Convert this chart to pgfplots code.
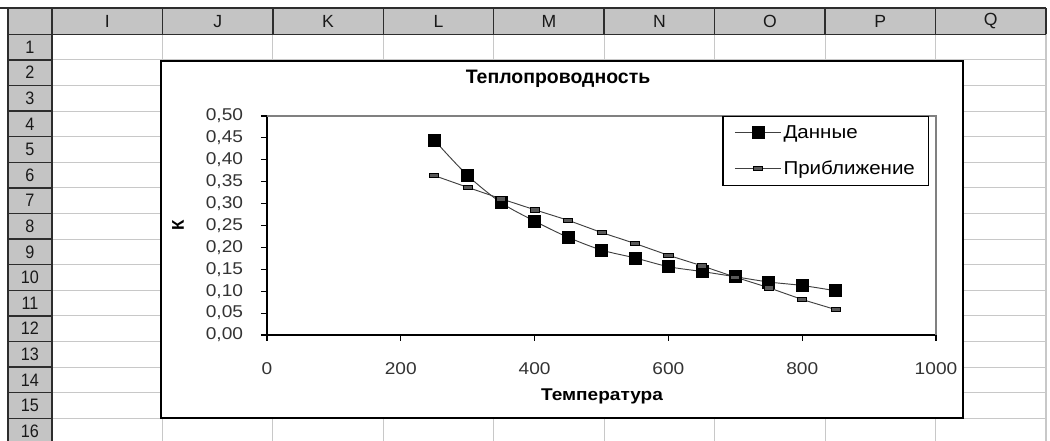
\documentclass[border=0pt]{standalone}
\usepackage{fontspec}
\setmainfont{Liberation Sans}
\usepackage{pgfplots}
\pgfplotsset{compat=1.18}
\definecolor{hdr}{RGB}{196,196,196}
\definecolor{gridc}{RGB}{200,200,200}
\definecolor{hdrline}{RGB}{45,45,45}
\definecolor{pborder}{RGB}{128,128,128}

\begin{document}
\begin{tikzpicture}
\useasboundingbox (0,0) rectangle (787.5pt,-330.75pt);
\begin{scope}[x=0.75pt,y=-0.75pt]
  % header fills
  \fill[hdr] (8,8) rectangle (1046,34.3);
  \fill[hdr] (8,34.3) rectangle (52,441);
  % cell grid
  \foreach \k in {1,...,15} {\pgfmathsetmacro\yy{34.3+25.6*\k}
    \draw[gridc, line width=0.8pt] (52,\yy) -- (1046,\yy);}
  \foreach \k in {1,...,9} {\pgfmathsetmacro\xx{52+110.44*\k}
    \draw[gridc, line width=0.8pt] (\xx,34.3) -- (\xx,441);}
  % header separators
  \foreach \k in {0,...,9} {\pgfmathsetmacro\xx{52+110.44*\k}
    \draw[hdrline, line width=1.1pt] (\xx,8) -- (\xx,34.3);}
  \foreach \k in {1,...,15} {\pgfmathsetmacro\yy{34.3+25.6*\k}
    \draw[hdrline, line width=1.1pt] (8,\yy) -- (52,\yy);}
  \draw[hdrline, line width=1.3pt] (0,8) -- (1046,8);
  \draw[hdrline, line width=1.1pt] (8,8) -- (8,441);
  \draw[hdrline, line width=1.1pt] (52,34.3) -- (52,441);
  \draw[hdrline, line width=1.1pt] (8,34.3) -- (1046,34.3);
  % column letters
  \foreach \c [count=\k from 0] in {I,J,K,L,M,N,O,P,Q} {\pgfmathsetmacro\xx{52+110.44*(\k+0.5)}
    \node[font=\fontsize{13.2}{15}\selectfont, text=black!90, inner sep=0pt] at (\xx,21.5) {\c};}
  % row numbers
  \foreach \r in {1,...,16} {\pgfmathsetmacro\yy{34.3+25.6*(\r-0.5)}
    \node[font=\fontsize{13.5}{15}\selectfont, text=black!90, inner sep=0pt, xscale=0.9] at (30,\yy) {\r};}
  % chart area
  \filldraw[fill=white, draw=black, line width=1pt] (161,61) rectangle (963,418);
  \node[font=\bfseries\fontsize{14.6}{17}\selectfont, inner sep=0pt] at (558,78.5) {Теплопроводность};
  \node[font=\bfseries\fontsize{12.75}{15}\selectfont, inner sep=0pt, rotate=90] at (178,225.5) {К};
  \node[font=\bfseries\fontsize{12.75}{15}\selectfont, inner sep=0pt, xscale=1.12] at (602,396) {Температура};
\end{scope}
\begin{axis}[
  at={(200.25pt,-251.25pt)}, anchor=south west,
  scale only axis, width=501.75pt, height=164.25pt,
  xmin=0, xmax=1000, ymin=0, ymax=0.5,
  xtick={0,200,400,600,800,1000},
  ytick={0,0.05,0.1,0.15,0.2,0.25,0.3,0.35,0.4,0.45,0.5},
  axis x line*=bottom, axis y line*=left,
  axis line style={black, line width=0.8pt},
  tick align=outside, major tick length=4.5pt,
  tick style={black, line width=0.8pt},
  /pgf/number format/assume math mode=true,
  every tick label/.append style={font=\fontsize{12.8}{14}\selectfont, text=black!80, xscale=1.12},
  yticklabel={\pgfmathprintnumber[fixed,fixed zerofill,precision=2,use comma]{\tick}},
  xticklabel={\pgfmathprintnumber[fixed,precision=0,set thousands separator={}]{\tick}},
  xticklabel style={yshift=-13pt},
  yticklabel style={xshift=-8.5pt},
  clip=false,
  legend style={at={(1,1)}, anchor=north east, xshift=-5.25pt,
    draw=black, line width=0.9pt, fill=white,
    font=\fontsize{14}{16}\selectfont, inner xsep=8.5pt, inner ysep=5pt,
    row sep=12.5pt, nodes={xscale=1.1, inner sep=1.5pt}},
  legend cell align=left,
  legend image code/.code={%
    \draw[mark repeat=2,mark phase=2,#1] plot coordinates {(0pt,0pt) (17.25pt,0pt) (34.5pt,0pt)};},
]
\draw[pborder, line width=0.8pt] (rel axis cs:0,1) -- (rel axis cs:1,1) -- (rel axis cs:1,0);
\addplot[black!75, line width=0.7pt, smooth, mark=square*, mark size=4.5pt,
  mark options={solid, fill=black, draw=black, line width=0.5pt}] coordinates {
  (250,0.445) (300,0.364) (350,0.302) (400,0.260) (450,0.223) (500,0.194) (550,0.176)
  (600,0.156) (650,0.145) (700,0.133) (750,0.121) (800,0.113) (850,0.101)};
\addlegendentry{Данные}
\addplot[black!75, line width=0.7pt, mark=square*, mark size=1.7pt,
  mark options={solid, xscale=2, fill=black!65, draw=black, line width=0.6pt}] coordinates {
  (250,0.364) (300,0.337) (350,0.311) (400,0.286) (450,0.262) (500,0.234) (550,0.209)
  (600,0.182) (650,0.158) (700,0.132) (750,0.108) (800,0.081) (850,0.058)};
\addlegendentry{Приближение}
\end{axis}
\end{tikzpicture}
\end{document}
